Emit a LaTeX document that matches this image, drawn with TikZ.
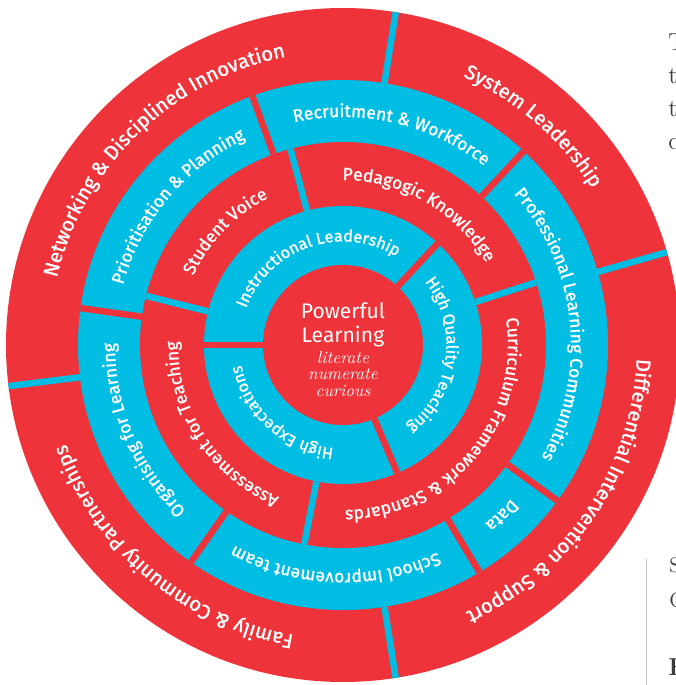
\documentclass[tikz,border=0pt]{standalone}
\usepackage{fontspec}
\newfontfamily\labelfont{Fira Sans}[FakeBold=1.3]
\newfontfamily\corefont{Fira Sans}
\usepackage{tikz}
\usetikzlibrary{decorations,decorations.text}
\definecolor{ringred}{RGB}{238,52,58}
\definecolor{ringcyan}{RGB}{0,189,227}
\definecolor{pagegrey}{RGB}{60,60,60}
% text centred on angle #1, baseline radius #2, size #3
\newcommand{\arclabel}[4]{%
	\path[decorate, decoration={text along path, text={|\labelfont\fontsize{#3}{#3}\selectfont|#4}, text align=center, text color=white}]
		(#1+80:#2) arc[start angle=#1+80, end angle=#1-80, radius=#2];}

\begin{document}
\begin{tikzpicture}
	\useasboundingbox (-6.86,-6.80) rectangle (6.66,6.90);
	\fill[ringred] (0,0) circle (6.74);
	\fill[ringcyan] (0,0) circle (5.3);
	\fill[ringred] (0,0) circle (4.06);
	\fill[ringcyan] (0,0) circle (2.78);
	\fill[ringred] (0,0) circle (1.6);
	% gaps between the pieces
	\foreach \a in {16,81,187,279}
		\draw[ringcyan, line width=.13cm] (\a:5.3) -- (\a:6.74);
	\foreach \a in {47,110,172,235,301,324}
		\draw[ringred, line width=.13cm] (\a:4.06) -- (\a:5.3);
	\foreach \a in {18,105,166,259}
		\draw[ringcyan, line width=.13cm] (\a:2.78) -- (\a:4.06);
	\foreach \a in {47,180,293}
		\draw[ringred, line width=.13cm] (\a:1.6) -- (\a:2.78);
	% outer ring
	\arclabel{134}{5.88}{11.5}{Networking {\&} Disciplined Innovation}
	\arclabel{49}{5.88}{11.5}{System Leadership}
	\arclabel{-34}{5.88}{11.5}{Differential Intervention {\&} Support}
	\arclabel{230}{5.88}{11.5}{Family {\&} Community Partnerships}
	% third ring
	\arclabel{140}{4.56}{10}{Prioritisation {\&} Planning}
	\arclabel{77}{4.56}{10}{Recruitment {\&} Workforce}
	\arclabel{6}{4.56}{10}{Professional Learning Communities}
	\arclabel{-47}{4.56}{10}{Data}
	\arclabel{-92}{4.56}{10}{School Improvement team}
	\arclabel{203}{4.56}{10}{Organising for Learning}
	% second ring
	\arclabel{136}{3.3}{10}{Student Voice}
	\arclabel{60}{3.3}{10}{Pedagogic Knowledge}
	\arclabel{-40}{3.3}{10}{Curriculum Framework {\&} Standards}
	\arclabel{213}{3.3}{10}{Assessment for Teaching}
	% inner ring
	\arclabel{109}{2.07}{9.3}{Instructional Leadership}
	\arclabel{-7}{2.07}{9.3}{High Quality Teaching}
	\arclabel{228}{2.07}{9.3}{High Expectations}
	% centre
	\node[white, align=center, font=\corefont\fontsize{12}{13.7}\selectfont] (core) at (0,.4) {Powerful\\Learning};
	\node[white, align=center, font=\itshape\fontsize{9.8}{9.5}\selectfont] (motto) at (0,-.58) {literate\\numerate\\curious};
	% bits of the page beside it
	\node[pagegrey, anchor=base west, inner sep=0, font=\fontsize{14}{14}\selectfont] (pa) at (6.5,5.90) {T};
	\node[pagegrey, anchor=base west, inner sep=0, font=\fontsize{14}{14}\selectfont] (pb) at (6.5,5.24) {t};
	\node[pagegrey, anchor=base west, inner sep=0, font=\fontsize{14}{14}\selectfont] (pc) at (6.5,4.58) {t};
	\node[pagegrey, anchor=base west, inner sep=0, font=\fontsize{14}{14}\selectfont] (pd) at (6.5,3.92) {c};
	\draw[gray!50, line width=.02cm] (6.08,-4.28) -- (6.08,-6.80);
	\node[pagegrey, anchor=base west, inner sep=0, font=\fontsize{12}{12}\selectfont] (pe) at (6.52,-4.54) {S};
	\node[pagegrey, anchor=base west, inner sep=0, font=\fontsize{12}{12}\selectfont] (pf) at (6.52,-5.24) {C};
	\node[pagegrey, anchor=base west, inner sep=0, font=\bfseries\fontsize{14}{14}\selectfont] (pg) at (6.5,-6.60) {F};
\end{tikzpicture}
\end{document}
